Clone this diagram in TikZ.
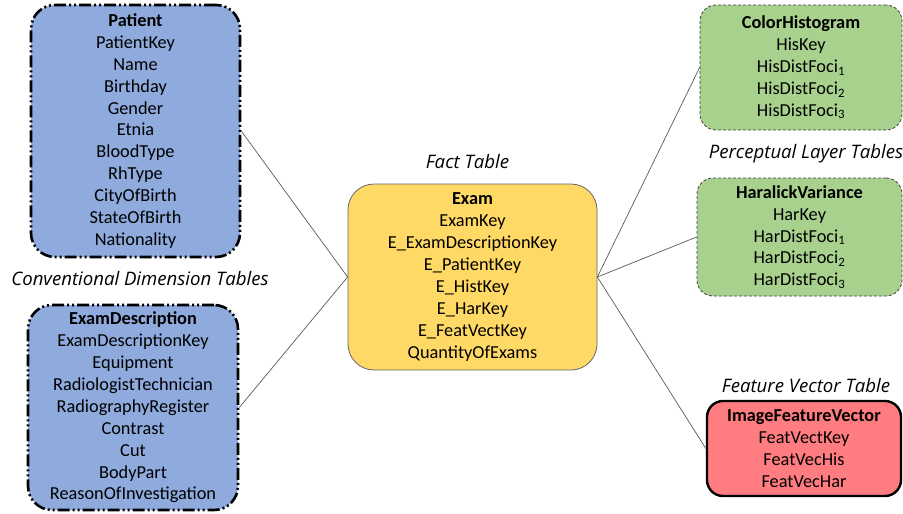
\documentclass[tikz,border=0pt]{standalone}
\usepackage{fontspec}
\setmainfont{Carlito}
\newfontfamily\labelfont{Open Sans}
\begin{document}
\begin{tikzpicture}[x=1pt,y=-1pt,
  tbl/.style={rectangle, inner sep=0pt, align=center, font=\fontsize{18.3}{21.9}\selectfont},
  dimbox/.style={tbl, fill=dimblue, draw=black, line width=2.6pt, rounded corners=24pt,
     dash pattern=on 12pt off 3pt on 2pt off 3pt on 2pt off 3pt},
  factbox/.style={tbl, fill=factyellow, draw=black!60, line width=0.8pt, rounded corners=26pt},
  percbox/.style={tbl, fill=percgreen, draw=black!75, line width=0.8pt, dash pattern=on 3pt off 2pt, rounded corners=16pt},
  fvbox/.style={tbl, fill=fvred, draw=black, line width=2.4pt, rounded corners=16pt},
  grouplabel/.style={font=\labelfont\fontsize{18.6}{22}\selectfont\itshape, inner sep=0pt},
  link/.style={draw=black!65, line width=0.7pt}]
\definecolor{dimblue}{HTML}{8FAADC}
\definecolor{factyellow}{HTML}{FFD966}
\definecolor{percgreen}{HTML}{A9D18E}
\definecolor{fvred}{HTML}{FF7C80}
\useasboundingbox (0,0) rectangle (903,514);

\node[dimbox, minimum width=209pt, minimum height=252pt] (patient) at (135.5,131)
  {\textbf{Patient}\\PatientKey\\Name\\Birthday\\Gender\\Etnia\\BloodType\\RhType\\CityOfBirth\\StateOfBirth\\Nationality};
\node[dimbox, minimum width=210pt, minimum height=205pt] (examdesc) at (133,407.5)
  {\textbf{ExamDescription}\\ExamDescriptionKey\\Equipment\\RadiologistTechnician\\RadiographyRegister\\Contrast\\Cut\\BodyPart\\ReasonOfInvestigation};
\node[factbox, minimum width=249pt, minimum height=186pt] (exam) at (472.5,277)
  {\textbf{Exam}\\ExamKey\\E\_ExamDescriptionKey\\E\_PatientKey\\E\_HistKey\\E\_HarKey\\E\_FeatVectKey\\QuantityOfExams};
\node[percbox, minimum width=202pt, minimum height=125pt] (colorhist) at (801,67.5)
  {\textbf{ColorHistogram}\\HisKey\\HisDistFoci\textsubscript{1}\\HisDistFoci\textsubscript{2}\\HisDistFoci\textsubscript{3}};
\node[percbox, minimum width=205pt, minimum height=118pt] (haralick) at (799.5,237)
  {\textbf{HaralickVariance}\\HarKey\\HarDistFoci\textsubscript{1}\\HarDistFoci\textsubscript{2}\\HarDistFoci\textsubscript{3}};
\node[fvbox, minimum width=194pt, minimum height=95pt] (featvec) at (804,448.5)
  {\textbf{ImageFeatureVector}\\FeatVectKey\\FeatVecHis\\FeatVecHar};

\node[grouplabel] (factlbl) at (467.5,162) {Fact Table};
\node[grouplabel] (perclbl) at (806,154) {Perceptual Layer Tables};
\node[grouplabel] (convlbl) at (140,279) {Conventional Dimension Tables};
\node[grouplabel] (fvlbl) at (806,386) {Feature Vector Table};

\draw[link] (patient.east) -- (exam.west);
\draw[link] (examdesc.east) -- (exam.west);
\draw[link] (exam.east) -- (colorhist.west);
\draw[link] (exam.east) -- (haralick.west);
\draw[link] (exam.east) -- (featvec.west);
\end{tikzpicture}
\end{document}
